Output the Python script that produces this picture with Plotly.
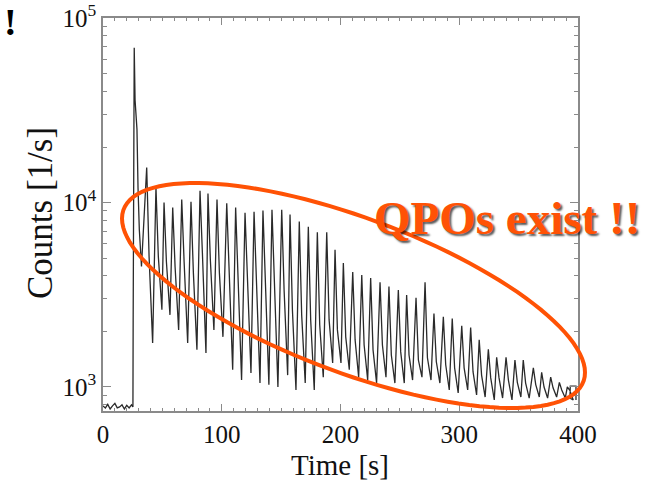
import numpy as np
import plotly.graph_objects as go

# ---------------- data ----------------
# quiescent level before the flare
pre_t = [0, 2, 4, 6, 8, 10, 12, 14, 16, 18, 20, 22, 24, 25.2]
pre_v = [790, 770, 805, 760, 790, 815, 770, 780, 800, 760, 795, 770, 800, 780]

# initial spike of the giant flare
spike_t = [25.4, 25.8, 26.3, 27.0, 27.8, 28.6, 29.5, 30.6, 32.4]
spike_v = [2300, 10000, 69000, 36000, 27000, 25000, 12000, 7100, 4500]

# pulsating tail: one main peak, a shoulder and a trough per 7.56 s rotation
peak_t = [36.8, 44.6, 51.4, 58.7, 66.3, 74.1, 81.7, 88.4, 96.0, 104.2,
          111.7, 119.6, 127.2, 134.7, 142.3, 150.5, 157.5, 165.3, 172.9, 180.5,
          188.4, 195.4, 202.4, 210.3, 217.9, 225.4, 233.3, 240.8, 248.7, 255.7,
          263.6, 271.2, 278.7, 286.6, 294.1, 302.1, 309.6, 316.8, 324.5, 331.5,
          339.4, 346.9, 353.9, 362.4, 369.4, 377.0, 384.3, 391.0]
peak_v = [15500, 12100, 10000, 9400, 10400, 10100, 11600, 11200, 10400, 9900,
          9400, 8800, 8900, 9050, 9150, 9150, 8600, 7900, 7400, 6900,
          6900, 5550, 4700, 4200, 4050, 3900, 3700, 3500, 3350, 3150,
          3050, 3700, 2500, 2400, 2350, 2150, 2100, 1800, 1600, 1450,
          1450, 1400, 1400, 1270, 1200, 1130, 1060, 1000]
shoulder_v = [5090, 5090, 4780, 4490, 4780, 4170, 5340, 4900, 4170, 3960,
              4170, 3680, 3960, 3680, 3370, 3370, 2620, 2460, 2310, 2170,
              2310, 2040, 1870, 1800, 1690, 1590, 1690, 1490, 1550, 1490,
              1400, 1440, 1370, 1320, 1270, 1270, 1210, 1160, 1120, 1120,
              1090, 1060, 1050, 1030, 1000, 990, 963, 963]
trough_v = [1730, 2620, 2460, 2040, 1730, 1590, 1530, 2040, 1870, 1240,
            1090, 1190, 1050, 1030, 1000, 1160, 963, 1050, 963, 1130,
            1350, 1350, 1240, 1130, 1090, 1050, 1130, 1050, 1050, 1090,
            1130, 1090, 1050, 963, 928, 963, 905, 882, 850, 871,
            850, 882, 871, 882, 871, 882, 871, 850]
shoulder_lag = 2.0   # s after each main peak
trough_lag = 5.0     # s after each main peak

# end of the record
end_t = [393.2, 393.5, 398.3, 398.3]
end_v = [870, 1010, 1010, 850]

x_ticks = [0, 100, 200, 300, 400]
y_ticks = [1000, 10000, 100000]
y_ticktext = ["10<sup>3</sup>", "10<sup>4</sup>", "10<sup>5</sup>"]
y_minor = [800, 900,
           2000, 3000, 4000, 5000, 6000, 7000, 8000, 9000,
           20000, 30000, 40000, 50000, 60000, 70000, 80000, 90000]

# ---------------- build the light curve ----------------
t = list(pre_t) + list(spike_t)
v = list(pre_v) + list(spike_v)
for tp, p, s, tr in zip(peak_t, peak_v, shoulder_v, trough_v):
    t += [tp, tp + shoulder_lag, tp + trough_lag]
    v += [p, s, tr]
t += end_t
v += end_v

fig = go.Figure()
fig.add_trace(go.Scatter(x=t, y=v, mode="lines",
                         line=dict(color="#2a2a2a", width=1.3),
                         hoverinfo="skip", showlegend=False))

SERIF = "Liberation Serif, Times New Roman, serif"
ORANGE = "#FF5205"
GREY = "#8a8a8a"

axis_common = dict(showline=True, linecolor=GREY, linewidth=1.5,
                   mirror="ticks", ticks="inside", tickcolor=GREY,
                   showgrid=False, zeroline=False, automargin=False,
                   tickfont=dict(family=SERIF, size=25, color="#111"))

fig.update_xaxes(range=[0, 400], tickmode="array", tickvals=x_ticks,
                 ticklen=7, tickwidth=1.2,
                 minor=dict(ticks="inside", dtick=10, ticklen=3.5,
                            tickcolor=GREY, tickwidth=1),
                 **axis_common)
fig.update_yaxes(type="log", range=[np.log10(741), 5.0005],
                 tickmode="array", tickvals=y_ticks, ticktext=y_ticktext,
                 ticklen=8, tickwidth=1.2,
                 minor=dict(ticks="inside", tickmode="array", tickvals=y_minor,
                            ticklen=4, tickcolor=GREY, tickwidth=1),
                 **axis_common)

L, R, T, B = 103, 578, 18, 411
W, H = R - L, B - T

# axis titles placed where the reference shows them
fig.add_annotation(x=(340 - L) / W, y=(B - 465) / H, xref="paper", yref="paper",
                   text="Time [s]", showarrow=False, xanchor="center", yanchor="middle",
                   font=dict(family=SERIF, size=29, color="#111"))
fig.add_annotation(x=(40 - L) / W, y=(B - 213) / H, xref="paper", yref="paper",
                   text="Counts [1/s]", showarrow=False, textangle=-90,
                   xanchor="center", yanchor="middle",
                   font=dict(family=SERIF, size=35, color="#111"))

# ---------------- ellipse annotation (pixel geometry -> paper) ----------------
th = np.linspace(0, 2 * np.pi, 121)
px = 353.5 + 231.5 * np.cos(th)
py = 295.5 + 77.0 * np.cos(th) + 82.0 * np.sin(th)
xs = (px - L) / W
ys = (B - py) / H
path = "M " + " L ".join(f"{a:.4f},{b:.4f}" for a, b in zip(xs, ys)) + " Z"
fig.add_shape(type="path", path=path, xref="paper", yref="paper",
              line=dict(color=ORANGE, width=4))

fig.add_annotation(x=(507 - L) / W, y=(B - 218) / H, xref="paper", yref="paper",
                   text="<b>QPOs exist !!</b>", showarrow=False,
                   xanchor="center", yanchor="middle",
                   font=dict(family=SERIF, size=47, color=ORANGE,
                             shadow="2px 2px 2px rgba(0,0,0,0.65)"))
fig.add_annotation(x=(2 - L) / W, y=(B - 22) / H, xref="paper", yref="paper",
                   text="<b>!</b>", showarrow=False, xanchor="left", yanchor="middle",
                   font=dict(family=SERIF, size=38, color="#000"))

fig.update_layout(width=660, height=486,
                  margin=dict(l=L, r=660 - R, t=T, b=486 - B),
                  paper_bgcolor="white", plot_bgcolor="white")

fig.write_html("out.html", config={"displayModeBar": False},
               post_script="document.body.style.margin='0';document.body.style.overflow='hidden';")
